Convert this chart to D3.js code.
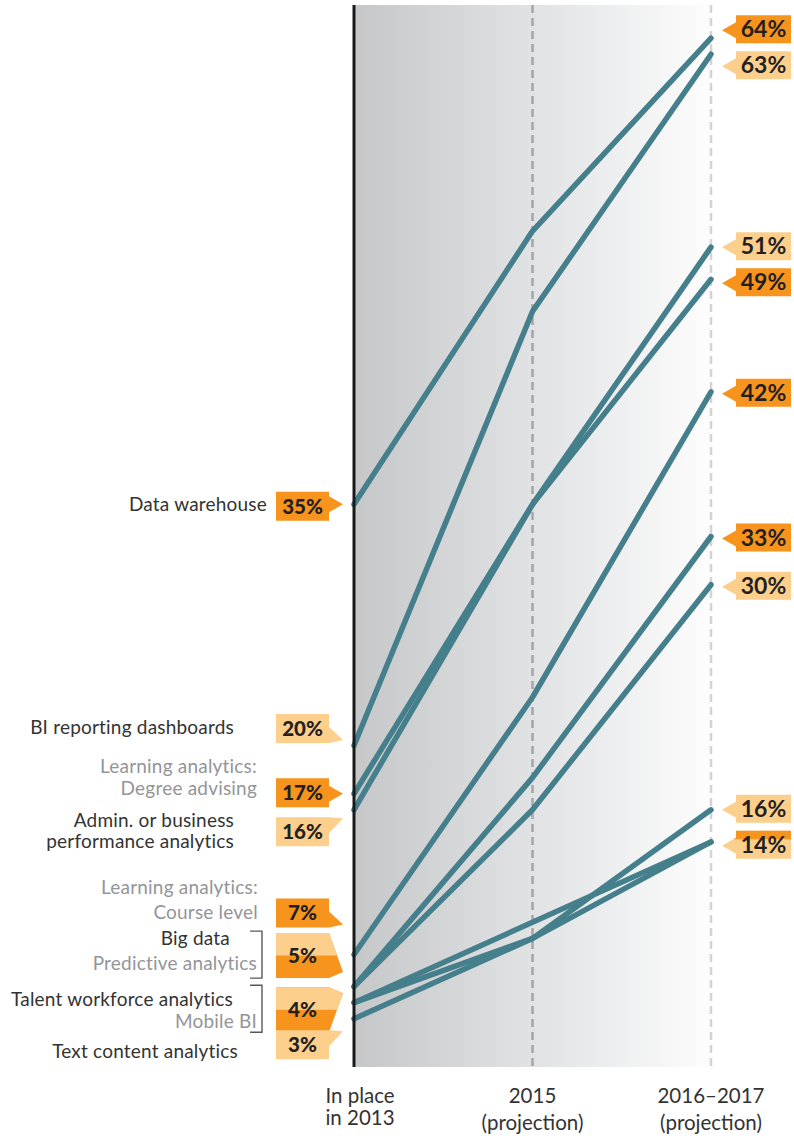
<!DOCTYPE html>
<html>
<head>
<meta charset="utf-8">
<script src="https://cdn.jsdelivr.net/npm/d3@7"></script>
<style>
  body { margin: 0; background: #fff; }
  svg { display: block; font-family: Lato, "Noto Sans", sans-serif; }
</style>
</head>
<body>
<svg id="chart" width="794" height="1142"></svg>
<script>
// ---- data ----
const categories = [
  "Data warehouse",
  "BI reporting dashboards",
  "Learning analytics: Degree advising",
  "Admin. or business performance analytics",
  "Learning analytics: Course level",
  "Big data",
  "Predictive analytics",
  "Talent workforce analytics",
  "Mobile BI",
  "Text content analytics"
];
const labelLines = [
  ["Data warehouse"],
  ["BI reporting dashboards"],
  ["Learning analytics:", "Degree advising"],
  ["Admin. or business", "performance analytics"],
  ["Learning analytics:", "Course level"],
  ["Big data"],
  ["Predictive analytics"],
  ["Talent workforce analytics"],
  ["Mobile BI"],
  ["Text content analytics"]
];
const in2013   = [35, 20, 17, 16, 7, 5, 5, 4, 4, 3];
const proj2015 = [52, 47, 35, 35, 23, 16, 18, 8, 9, 8];
const proj2017 = [64, 63, 49, 51, 42, 30, 33, 16, 14, 14];
const highlighted = [true, false, true, false, true, false, true, false, true, false];
const mutedLabel  = [false, false, true, false, true, false, true, false, true, false];
const periods = ["2013", "2015", "2017"];
const periodLabels = [["In place", "in 2013"], ["2015", "(projection)"], ["2016\u20132017", "(projection)"]];

// ---- layout ----
const plotTop = 5, plotBottom = 1067;
const x = d3.scalePoint().domain(periods).range([354, 711]);
const y = d3.scaleLinear().domain([0, 66]).range([plotBottom, plotTop + 1]);

// vertical nudges of the left value tags (in tag-group order) so they sit beside their labels
const leftTagShift = [2, -17, -1, 22, -41.5, -31, 7, 26];
// text placement of the category labels, relative to their tag centre
const leftLabelPlacement = [
  { x: 267, dy: 4.5 },
  { x: 234, dy: 6 },
  { x: 257, dy: -19.5, lh: 22 },
  { x: 234, dy: -4.5, lh: 21 },
  { x: 258, dy: -18.5, lh: 25 },
  { x: 230, dy: -11 },
  { x: 257, dy: 14 },
  { x: 233, dy: -4 },
  { x: 257, dy: 18 },
  { x: 238, dy: 13 }
];

const COLORS = {
  dark: "#f7941e",
  light: "#fdcf8d",
  line: "#447f8b",
  text: "#333333",
  muted: "#939598",
  tagText: "#231f20"
};

const svg = d3.select("#chart");
const defs = svg.append("defs");

// background gradient across the projection span
const grad = defs.append("linearGradient").attr("id", "bgGrad")
  .attr("x1", 0).attr("x2", 1).attr("y1", 0).attr("y2", 0);
grad.append("stop").attr("offset", "0%").attr("stop-color", "#c6c7c9");
grad.append("stop").attr("offset", "50%").attr("stop-color", "#e1e2e4");
grad.append("stop").attr("offset", "100%").attr("stop-color", "#fdfdfd");

const x0 = x(periods[0]), x2 = x(periods[periods.length - 1]);
svg.append("rect")
  .attr("x", x0).attr("y", plotTop)
  .attr("width", x2 - x0).attr("height", plotBottom - plotTop)
  .attr("fill", "url(#bgGrad)");

// dashed period guides
const guideColors = { "2015": "#a3a5a8", "2017": "#d3d4d6" };
svg.selectAll("line.guide")
  .data(periods.slice(1))
  .join("line")
  .attr("class", "guide")
  .attr("x1", d => x(d)).attr("x2", d => x(d))
  .attr("y1", plotTop).attr("y2", plotBottom)
  .attr("stroke", d => guideColors[d])
  .attr("stroke-width", 2.5)
  .attr("stroke-dasharray", "8 5");

// series lines
const series = categories.map((c, i) => ({
  name: c,
  values: [
    { period: periods[0], value: in2013[i] },
    { period: periods[1], value: proj2015[i] },
    { period: periods[2], value: proj2017[i] }
  ]
}));
const line = d3.line().x(d => x(d.period)).y(d => y(d.value));
svg.append("g").selectAll("path")
  .data(series)
  .join("path")
  .attr("d", d => line(d.values))
  .attr("fill", "none")
  .attr("stroke", COLORS.line)
  .attr("stroke-width", 5.5)
  .attr("stroke-linecap", "round")
  .attr("stroke-linejoin", "round");

// baseline axis for 2013
svg.append("line")
  .attr("x1", x0).attr("x2", x0)
  .attr("y1", plotTop).attr("y2", plotBottom)
  .attr("stroke", "#1a1a1a").attr("stroke-width", 3);

// ---- value tags ----
let clipId = 0;
function drawTag(g, o) {
  const p = d3.path();
  if (o.side === "left") { // tail on the right edge
    p.moveTo(o.bx0, o.top); p.lineTo(o.bx1, o.top); p.lineTo(o.bx1, o.baseTop);
    p.lineTo(o.tipX, o.tipY); p.lineTo(o.bx1, o.baseBot); p.lineTo(o.bx1, o.bottom);
    p.lineTo(o.bx0, o.bottom); p.closePath();
  } else { // tail on the left edge
    p.moveTo(o.bx0, o.top); p.lineTo(o.bx1, o.top); p.lineTo(o.bx1, o.bottom);
    p.lineTo(o.bx0, o.bottom); p.lineTo(o.bx0, o.baseBot); p.lineTo(o.tipX, o.tipY);
    p.lineTo(o.bx0, o.baseTop); p.closePath();
  }
  const d = p.toString();
  if (o.fills.length === 1) {
    g.append("path").attr("d", d).attr("fill", o.fills[0]);
  } else {
    g.append("path").attr("d", d).attr("fill", o.fills[1]);
    const id = "tagClip" + (clipId++);
    const splitY = o.top + (o.bottom - o.top) * o.split;
    defs.append("clipPath").attr("id", id).append("rect")
      .attr("x", Math.min(o.bx0, o.tipX) - 2).attr("y", o.top - 20)
      .attr("width", Math.abs(o.bx1 - o.bx0) + 40).attr("height", splitY - o.top + 20);
    g.append("path").attr("d", d).attr("fill", o.fills[0]).attr("clip-path", `url(#${id})`);
  }
  g.append("text")
    .attr("x", (o.bx0 + o.bx1) / 2)
    .attr("y", (o.top + o.bottom) / 2 + o.fontSize * 0.36)
    .attr("text-anchor", "middle")
    .attr("font-size", o.fontSize)
    .attr("font-weight", o.weight)
    .attr("fill", COLORS.tagText)
    .text(o.text);
}

const fillOf = i => highlighted[i] ? COLORS.dark : COLORS.light;
const clamp = (v, lo, hi) => Math.max(lo, Math.min(hi, v));

// left tags: one per distinct 2013 value
const leftGroups = d3.groups(d3.range(categories.length), i => in2013[i]);
const leftG = svg.append("g");
leftGroups.forEach(([value, idx], gi) => {
  const h = idx.length > 1 ? 45 : 29;
  const cy = y(value) + leftTagShift[gi];
  const top = cy - h / 2, bottom = cy + h / 2;
  const bx0 = 276, bx1 = 329;
  let tipY, baseTop, baseBot;
  if (idx.length > 1) {
    tipY = clamp(y(value) - 10, top + 6, bottom - 6);
    baseTop = top; baseBot = bottom;
  } else {
    tipY = clamp(y(value), top + 1, bottom - 3);
    baseTop = clamp(tipY - 8, top, bottom - 16);
    baseBot = baseTop + 16;
  }
  drawTag(leftG, {
    side: "left", bx0, bx1, top, bottom, tipX: 343, tipY, baseTop, baseBot,
    fills: idx.map(fillOf), split: 0.5,
    text: value + "%", fontSize: 20.5, weight: 900
  });
  if (idx.length > 1) {
    leftG.append("path")
      .attr("d", `M250,${top - 2}H262V${bottom}H250`)
      .attr("fill", "none").attr("stroke", "#58595b").attr("stroke-width", 1.4);
  }
  // category labels
  idx.forEach(i => {
    const pl = leftLabelPlacement[i];
    const t = leftG.append("text")
      .attr("text-anchor", "end")
      .attr("font-size", 19)
      .attr("letter-spacing", 0.2)
      .attr("fill", mutedLabel[i] ? COLORS.muted : COLORS.text);
    labelLines[i].forEach((ln, k) => {
      t.append("tspan")
        .attr("x", pl.x)
        .attr("y", cy + pl.dy + k * (pl.lh || 0))
        .text(ln);
    });
  });
});

// right tags: one per distinct 2016–2017 value, spread apart so they don't collide
const rightGroups = d3.groups(d3.range(categories.length), i => proj2017[i])
  .map(([value, idx]) => ({ value, idx, target: y(value) }))
  .sort((a, b) => a.target - b.target);
const SEP = 36;
let clusters = rightGroups.map(n => ({ items: [n], center: n.target }));
let changed = true;
while (changed) {
  changed = false;
  for (let k = 0; k < clusters.length - 1; k++) {
    const a = clusters[k], b = clusters[k + 1];
    const aLast = a.center + (a.items.length - 1) / 2 * SEP;
    const bFirst = b.center - (b.items.length - 1) / 2 * SEP;
    if (bFirst - aLast < SEP) {
      const items = a.items.concat(b.items);
      clusters.splice(k, 2, { items, center: d3.mean(items, d => d.target) });
      changed = true;
      break;
    }
  }
}
clusters.forEach(c => c.items.forEach((n, k) => {
  n.cy = c.center + (k - (c.items.length - 1) / 2) * SEP;
}));

const rightG = svg.append("g");
rightGroups.forEach(n => {
  const h = 28;
  const top = n.cy - h / 2 + 1, bottom = n.cy + h / 2 + 1;
  const tipY = n.cy + 2;
  drawTag(rightG, {
    side: "right", bx0: 736, bx1: 791, top, bottom, tipX: 722, tipY,
    baseTop: tipY - 8, baseBot: tipY + 8,
    fills: n.idx.map(fillOf), split: 0.3,
    text: n.value + "%", fontSize: 23, weight: 700
  });
});

// ---- period labels ----
const periodNudge = [6, 0, 0];
const periodLineGap = [22, 27, 27];
const xl = svg.append("g").attr("font-size", 20.5).attr("fill", COLORS.text).attr("text-anchor", "middle");
periods.forEach((p, i) => {
  const t = xl.append("text");
  periodLabels[i].forEach((ln, k) => {
    t.append("tspan")
      .attr("x", x(p) + periodNudge[i])
      .attr("y", 1103 + k * periodLineGap[i])
      .text(ln);
  });
});
</script>
</body>
</html>
